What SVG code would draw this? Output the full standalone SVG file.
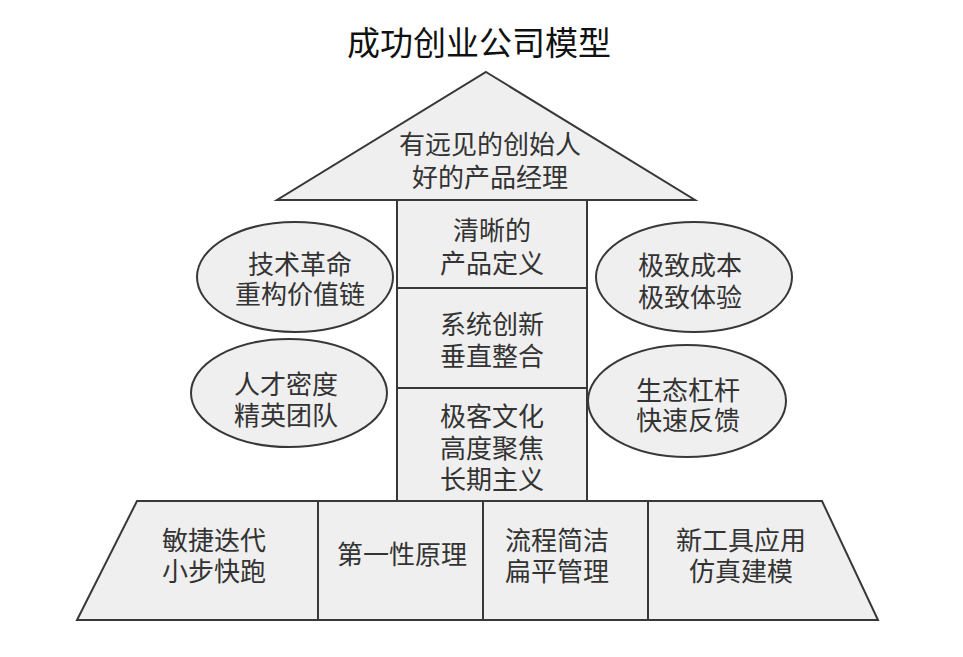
<svg xmlns="http://www.w3.org/2000/svg" width="963" height="657" viewBox="0 0 963 657">
<style>
.s{fill:#efefef;stroke:#383838;stroke-width:2}
.t{font-family:"Noto Sans CJK SC","Noto Sans",sans-serif;font-size:26px;fill:#333;text-anchor:middle;dominant-baseline:central}
.title{font-family:"Noto Sans CJK SC","Noto Sans",sans-serif;font-size:33px;fill:#111;text-anchor:middle;dominant-baseline:central}
</style>
<rect width="963" height="657" fill="#fff"/>
<text class="title" x="479" y="41">成功创业公司模型</text>
<g id="connectors"></g>
<g id="base1"><polygon class="s" points="137,501 318,501 318,620 77,620"/><text class="t" x="214" y="538">敏捷迭代</text><text class="t" x="214" y="569">小步快跑</text></g>
<g id="base2"><rect class="s" x="318" y="501" width="165" height="119"/><text class="t" x="402" y="552">第一性原理</text></g>
<g id="base3"><rect class="s" x="483" y="501" width="165" height="119"/><text class="t" x="557" y="538">流程简洁</text><text class="t" x="557" y="569">扁平管理</text></g>
<g id="base4"><polygon class="s" points="648,501 822,501 878,620 648,620"/><text class="t" x="741" y="538">新工具应用</text><text class="t" x="741" y="569">仿真建模</text></g>
<g id="col1"><rect class="s" x="397" y="200" width="190" height="88"/><text class="t" x="492" y="228">清晰的</text><text class="t" x="492" y="261">产品定义</text></g>
<g id="col2"><rect class="s" x="397" y="288" width="190" height="100"/><text class="t" x="492" y="322">系统创新</text><text class="t" x="492" y="354">垂直整合</text></g>
<g id="col3"><rect class="s" x="397" y="388" width="190" height="113"/><text class="t" x="492" y="414">极客文化</text><text class="t" x="492" y="446">高度聚焦</text><text class="t" x="492" y="477">长期主义</text></g>
<g id="roof"><polygon class="s" points="486,72 695,200 277,200"/><text class="t" x="490" y="142">有远见的创始人</text><text class="t" x="490" y="175">好的产品经理</text></g>
<g id="e1"><ellipse class="s" cx="295" cy="277" rx="98" ry="55"/><text class="t" x="300" y="262">技术革命</text><text class="t" x="300" y="292">重构价值链</text></g>
<g id="e2"><ellipse class="s" cx="289" cy="393" rx="98" ry="54"/><text class="t" x="286" y="382">人才密度</text><text class="t" x="286" y="413">精英团队</text></g>
<g id="e3"><ellipse class="s" cx="694" cy="277" rx="98" ry="55"/><text class="t" x="690" y="263">极致成本</text><text class="t" x="690" y="295">极致体验</text></g>
<g id="e4"><ellipse class="s" cx="687" cy="401" rx="99" ry="56"/><text class="t" x="688" y="388">生态杠杆</text><text class="t" x="688" y="418">快速反馈</text></g>
</svg>
